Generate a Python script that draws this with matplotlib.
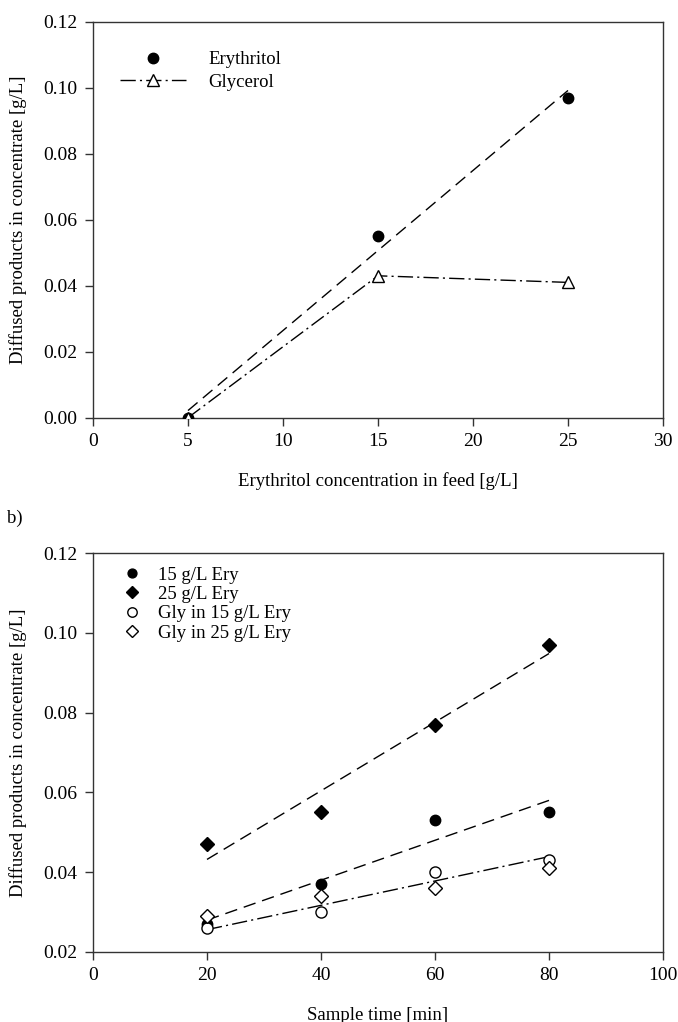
import numpy as np
import matplotlib
matplotlib.use("Agg")
import matplotlib.pyplot as plt

plt.rcParams['font.family'] = ['Liberation Serif', 'DejaVu Serif']
plt.rcParams['mathtext.fontset'] = 'stix'

# ---------------- data ----------------
# Panel a
feed_conc = [5, 15, 25]
erythritol = [0.0, 0.055, 0.097]
glycerol = [0.0, 0.043, 0.041]

# Panel b
sample_time = [20, 40, 60, 80]
ery_15 = [0.027, 0.037, 0.053, 0.055]
ery_25 = [0.047, 0.055, 0.077, 0.097]
gly_15 = [0.026, 0.030, 0.040, 0.043]
gly_25 = [0.029, 0.034, 0.036, 0.041]

xticks_a = [0, 5, 10, 15, 20, 25, 30]
yticks_a = [0.00, 0.02, 0.04, 0.06, 0.08, 0.10, 0.12]
xticks_b = [0, 20, 40, 60, 80, 100]
yticks_b = [0.02, 0.04, 0.06, 0.08, 0.10, 0.12]

FS = 13.5
TFS = 14
W, H = 678, 1022
fig = plt.figure(figsize=(W / 100, H / 100), dpi=100)

def ax_rect(l, t, r, b):
    return [l / W, 1 - b / H, (r - l) / W, (b - t) / H]

spine_c = '#333333'

def style(ax):
    for s in ax.spines.values():
        s.set_color(spine_c)
        s.set_linewidth(1.0)
    ax.tick_params(direction='out', length=6, width=1.0, color=spine_c,
                   labelsize=TFS, pad=5, top=False, right=False)

DASH = (0, (9, 5))
DASHDOT = (0, (11, 3, 1.5, 3))

# ---------------- panel a ----------------
ax1 = fig.add_axes(ax_rect(93, 21.7, 663, 417.7))
x = np.array(feed_conc, dtype=float)
p = np.polyfit(x, erythritol, 1)
ax1.plot(x[[0, -1]], np.polyval(p, x[[0, -1]]), color='black', lw=1.0,
         linestyle=DASH, zorder=2)
ax1.plot(feed_conc, erythritol, linestyle='none', marker='o', ms=7.5,
         color='black', label='Erythritol', zorder=3)
ax1.plot(feed_conc, glycerol, color='black', lw=1.0, linestyle=DASHDOT,
         marker='^', ms=8, mfc='white', mec='black', mew=1.0,
         label='Glycerol', zorder=3)
ax1.set_xlim(0, 30)
ax1.set_ylim(0, 0.12)
ax1.set_xticks(xticks_a)
ax1.set_yticks(yticks_a)
ax1.set_yticklabels([f'{v:.2f}' for v in yticks_a])
style(ax1)
ax1.set_xlabel('Erythritol concentration in feed [g/L]', fontsize=FS, labelpad=16)
ax1.set_ylabel('Diffused products in concentrate [g/L]', fontsize=FS, labelpad=12)
ax1.legend(loc='upper left', bbox_to_anchor=(0.035, 0.945), frameon=False,
           fontsize=FS, handlelength=3.5, handletextpad=1.2, labelspacing=0.3,
           borderaxespad=0)

# ---------------- panel b ----------------
ax2 = fig.add_axes(ax_rect(93, 553, 663, 952))
t = np.array(sample_time, dtype=float)
ends = t[[0, -1]]
for series, ls in [(ery_25, DASH), (ery_15, DASH), (gly_15, DASHDOT)]:
    pp = np.polyfit(t, series, 1)
    ax2.plot(ends, np.polyval(pp, ends), color='black', lw=1.0, linestyle=ls, zorder=2)

ax2.plot(sample_time, ery_15, linestyle='none', marker='o', ms=7.5,
         color='black', label='15 g/L Ery', zorder=3)
ax2.plot(sample_time, ery_25, linestyle='none', marker='D', ms=7,
         color='black', label='25 g/L Ery', zorder=3)
ax2.plot(sample_time, gly_15, linestyle='none', marker='o', ms=8,
         mfc='white', mec='black', mew=1.0, label='Gly in 15 g/L Ery', zorder=4)
ax2.plot(sample_time, gly_25, linestyle='none', marker='D', ms=7,
         mfc='white', mec='black', mew=1.0, label='Gly in 25 g/L Ery', zorder=4)
ax2.set_xlim(0, 100)
ax2.set_ylim(0.02, 0.12)
ax2.set_xticks(xticks_b)
ax2.set_yticks(yticks_b)
ax2.set_yticklabels([f'{v:.2f}' for v in yticks_b])
style(ax2)
ax2.set_xlabel('Sample time [min]', fontsize=FS, labelpad=16)
ax2.set_ylabel('Diffused products in concentrate [g/L]', fontsize=FS, labelpad=12)
ax2.legend(loc='upper left', bbox_to_anchor=(0.035, 0.985), frameon=False,
           fontsize=FS, handlelength=1.2, handletextpad=0.8, labelspacing=0.12,
           borderaxespad=0, markerscale=0.85)

fig.text(7 / W, 1 - 518 / H, 'b)', fontsize=FS, ha='left', va='center')

fig.savefig('out.png', dpi=100, facecolor='white')
